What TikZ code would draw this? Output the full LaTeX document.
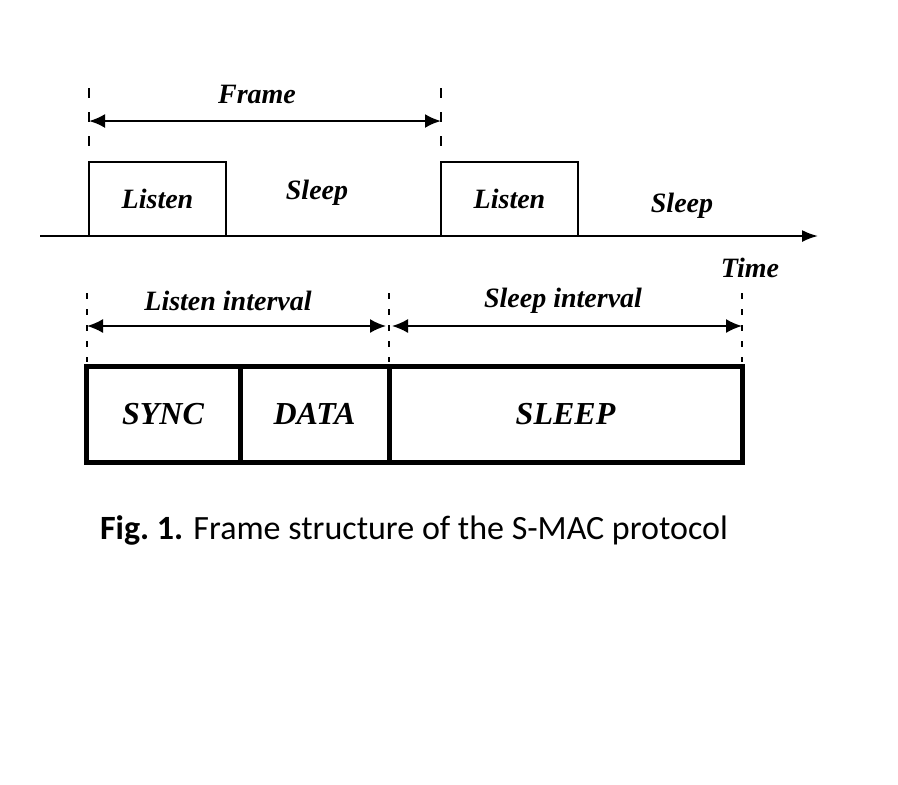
\documentclass[tikz,border=0pt]{standalone}
\usepackage{fontspec}
\setmainfont{Liberation Serif}
\newfontfamily\capfont{Carlito}
\usetikzlibrary{arrows.meta, positioning}

\tikzset{
  lbl/.style={font=\fontsize{14}{16}\selectfont\bfseries\itshape},
  tickline/.style={line width=0.8pt, dash pattern=on 5pt off 7pt},
  span/.style={line width=1.2pt, {Latex[length=8pt,width=7pt]}-{Latex[length=8pt,width=7pt]}},
  onbox/.style={draw, line width=1pt, minimum width=68.5pt, minimum height=37pt, inner sep=0pt, outer sep=0pt, anchor=south west, lbl},
  slot/.style={draw, line width=2.5pt, minimum height=48pt, inner sep=0pt, outer sep=0pt, lbl, font=\fontsize{16}{18}\selectfont\bfseries\itshape},
}

\begin{document}
\begin{tikzpicture}[x=0.5pt, y=-0.5pt]
\useasboundingbox (0,0) rectangle (898,784);

\coordinate (t0) at (40,236);
\coordinate (t1) at (818,236);
\node[onbox] (listenA) at (89,236) {Listen};
\node[onbox] (listenB) at (441,236) {Listen};
\draw[line width=1pt, -{Latex[length=8pt,width=6pt]}] (t0) -- (t1);
\node[lbl] (sleepA) at (317,193) {Sleep};
\node[lbl] (sleepB) at (682,206) {Sleep};
\node[lbl] (time) at (750,268) {Time};

\draw[tickline] (89,88) -- (89,155);
\draw[tickline] (441,88) -- (441,155);
\coordinate (frameL) at (89,121);
\coordinate (frameR) at (441,121);
\draw[span] (frameL) -- (frameR);
\node[lbl] (frame) at (257,94) {Frame};

\draw[tickline, line width=0.6pt, dash pattern=on 3pt off 5pt] (87,293) -- (87,362);
\draw[tickline, line width=0.6pt, dash pattern=on 3pt off 5pt] (389,293) -- (389,362);
\draw[tickline, line width=0.6pt, dash pattern=on 3pt off 5pt] (742,293) -- (742,362);
\coordinate (lintL) at (87,326);
\coordinate (lintR) at (386,326);
\coordinate (sintL) at (392,326);
\coordinate (sintR) at (742,326);
\draw[span, line width=0.9pt] (lintL) -- (lintR);
\draw[span, line width=0.9pt] (sintL) -- (sintR);
\node[lbl] (lint) at (228,301) {Listen interval};
\node[lbl] (sint) at (563,301) {Sleep interval};

\node[slot, minimum width=77pt, anchor=north west] (sync) at (86,366) {SYNC};
\node[slot, minimum width=74.5pt, right=0pt of sync] (data) {DATA};
\node[slot, minimum width=176.5pt, right=0pt of data] (sleepslot) {SLEEP};

\node[font=\capfont\fontsize{17}{20}\selectfont] (cap) at (414,530) {\textbf{Fig.\ 1.} Frame structure of the S-MAC protocol};
\end{tikzpicture}
\end{document}
